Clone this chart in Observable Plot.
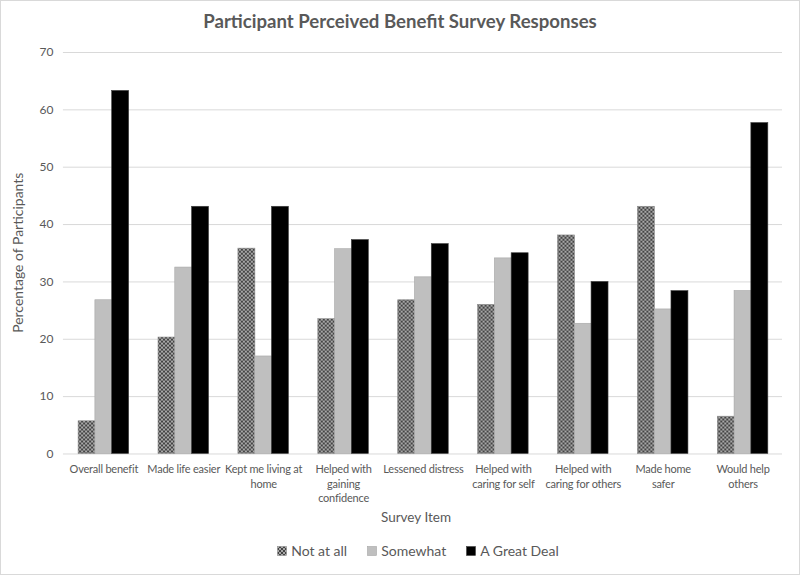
<!DOCTYPE html>
<html>
<head>
<meta charset="utf-8">
<script src="https://cdn.jsdelivr.net/npm/d3@7"></script>
<script src="https://cdn.jsdelivr.net/npm/@observablehq/plot@0.6"></script>
<style>
  html, body { margin: 0; padding: 0; background: #fff; }
  #wrap { position: relative; width: 800px; height: 575px; box-sizing: border-box; border: 1px solid #d9d9d9; font-family: Lato, "Open Sans", sans-serif; color: #595959; overflow: hidden; }
  #title { position: absolute; top: 9px; left: 0; width: 100%; text-align: center; font-size: 18.6px; font-weight: bold; color: #595959; }
  #chart { position: absolute; top: 40px; left: -1px; }
  #xtitle { position: absolute; top: 508px; left: 16px; width: 100%; text-align: center; font-size: 13.5px; }
  #legend { position: absolute; top: 541px; left: 18px; width: 100%; display: flex; justify-content: center; gap: 20px; font-size: 14px; }
  #legend .item { display: flex; align-items: center; gap: 4px; }
</style>
</head>
<body>
<div id="wrap">
  <div id="title"></div>
  <div id="chart"></div>
  <div id="xtitle"></div>
  <div id="legend"></div>
</div>
<script>
const chartTitle = "Participant Perceived Benefit Survey Responses";
const xTitle = "Survey Item";
const yTitle = "Percentage of Participants";
const categories = ["Overall benefit", "Made life easier", "Kept me living at home", "Helped with gaining confidence", "Lessened distress", "Helped with caring for self", "Helped with caring for others", "Made home safer", "Would help others"];
const categoryLabels = ["Overall benefit", "Made life easier", "Kept me living at\nhome", "Helped with\ngaining\nconfidence", "Lessened distress", "Helped with\ncaring for self", "Helped with\ncaring for others", "Made home\nsafer", "Would help\nothers"];
const seriesNames = ["Not at all", "Somewhat", "A Great Deal"];
const notAtAll = [5.7, 20.3, 35.8, 23.5, 26.8, 26.0, 38.1, 43.1, 6.5];
const somewhat = [26.8, 32.5, 17.0, 35.7, 30.8, 34.1, 22.7, 25.2, 28.4];
const greatDeal = [63.3, 43.1, 43.1, 37.3, 36.6, 35.0, 30.0, 28.4, 57.7];
const yTicks = [0, 10, 20, 30, 40, 50, 60, 70];
const seriesFills = ["url(#checker)", "#bfbfbf", "#000000"];
const seriesStrokes = ["#8c8c8c", "#a6a6a6", "#404040"];
const seriesValues = [notAtAll, somewhat, greatDeal];

document.getElementById("title").textContent = chartTitle;
document.getElementById("xtitle").textContent = xTitle;

const labelOf = new Map(categories.map((c, i) => [c, categoryLabels[i]]));
const barWidthPx = 16.8;

const seriesData = seriesNames.map((s, si) =>
  categories.map((c, i) => ({category: c, series: s, value: seriesValues[si][i]}))
);

const chart = Plot.plot({
  width: 800,
  height: 470,
  marginTop: 11,
  marginBottom: 57,
  marginLeft: 63,
  marginRight: 17,
  style: {fontFamily: "Lato, 'Open Sans', sans-serif", fontSize: "12px", color: "#595959", background: "transparent"},
  x: {domain: categories, paddingInner: 0.79, paddingOuter: 0.395, label: null},
  y: {domain: [0, 70], label: null},
  marks: [
    Plot.gridY(yTicks, {stroke: "#d9d9d9", strokeOpacity: 1, strokeWidth: 1}),
    ...seriesData.map((d, si) => Plot.barY(d, {
      x: "category", y: "value",
      fill: seriesFills[si], stroke: seriesStrokes[si], strokeWidth: 0.6,
      dx: (si - 1) * barWidthPx
    })),
    Plot.axisY(yTicks, {tickSize: 0, tickPadding: 10, fontSize: 12, fill: "#595959", label: null}),
    Plot.axisX({tickSize: 0, tickPadding: 8, fontSize: 11, fill: "#595959", lineHeight: 1.36, tickFormat: (c) => labelOf.get(c), label: null})
  ]
});

const svg = d3.select(chart);
svg.selectAll("[aria-label='x-axis tick label'] text").style("letter-spacing", "-0.2px");
const defs = svg.insert("defs", ":first-child");
const pat = defs.append("pattern").attr("id", "checker").attr("patternUnits", "userSpaceOnUse").attr("width", 4).attr("height", 4);
pat.append("rect").attr("width", 4).attr("height", 4).attr("fill", "#444444");
pat.append("rect").attr("x", 0).attr("y", 0).attr("width", 2).attr("height", 2).attr("fill", "#a8a8a8");
pat.append("rect").attr("x", 2).attr("y", 2).attr("width", 2).attr("height", 2).attr("fill", "#a8a8a8");
svg.append("text")
  .attr("transform", "translate(19,212) rotate(-90)")
  .attr("text-anchor", "middle")
  .attr("dominant-baseline", "middle")
  .attr("fill", "#595959")
  .style("font-size", "14px")
  .text(yTitle);
document.getElementById("chart").appendChild(chart);

const legend = document.getElementById("legend");
seriesNames.forEach((s, si) => {
  const item = document.createElement("div");
  item.className = "item";
  item.innerHTML = `<svg width="10" height="10"><rect x="0.5" y="0.5" width="9" height="9" fill="${seriesFills[si]}" stroke="${seriesStrokes[si]}" stroke-width="0.6"></rect></svg>`;
  const span = document.createElement("span");
  span.textContent = s;
  item.appendChild(span);
  legend.appendChild(item);
});
</script>
</body>
</html>
